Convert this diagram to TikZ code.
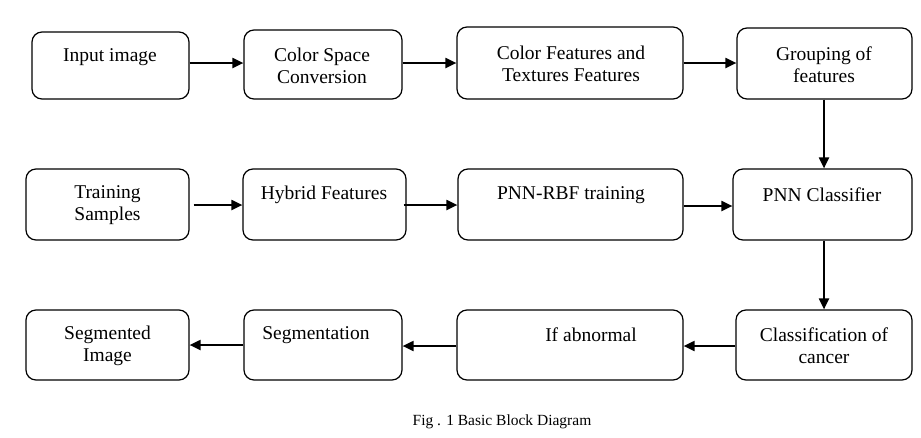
\documentclass[tikz,border=0pt]{standalone}
\usepackage{fontspec}
\setmainfont{Liberation Serif}
\usetikzlibrary{arrows.meta}
\begin{document}
\begin{tikzpicture}[x=1pt,y=-1pt,
  box/.style={draw, line width=1.2pt, rounded corners=10pt, inner sep=0pt},
  lbl/.style={font=\fontsize{19.5}{22}\selectfont, align=center, inner sep=0pt},
  captext/.style={font=\fontsize{15.5}{18}\selectfont, inner sep=0pt},
  arr/.style={line width=2pt, -{Triangle[length=11pt,width=10pt]}}]
\useasboundingbox (0,0) rectangle (921,437);
% boxes
\node[box, minimum width=157pt, minimum height=67pt] (a1) at (110.5,65.5) {};
\node[box, minimum width=158pt, minimum height=69pt] (a2) at (323,64.5) {};
\node[box, minimum width=226pt, minimum height=72pt] (a3) at (570,63) {};
\node[box, minimum width=175pt, minimum height=71pt] (a4) at (824.5,63.5) {};
\node[box, minimum width=163pt, minimum height=71pt] (b1) at (107.5,204.5) {};
\node[box, minimum width=163pt, minimum height=71pt] (b2) at (324.5,204.5) {};
\node[box, minimum width=225pt, minimum height=71pt] (b3) at (570.5,204.5) {};
\node[box, minimum width=179pt, minimum height=71pt] (b4) at (822.5,204.5) {};
\node[box, minimum width=163pt, minimum height=70pt] (c1) at (107.5,345) {};
\node[box, minimum width=158pt, minimum height=70pt] (c2) at (323,345) {};
\node[box, minimum width=226pt, minimum height=70pt] (c3) at (570,345) {};
\node[box, minimum width=176pt, minimum height=70pt] (c4) at (824,345) {};
% texts
\node[lbl] (ta1) at (110,57) {Input image};
\node[lbl] (ta2) at (322,66) {Color Space\\Conversion};
\node[lbl] (ta3) at (571,63.5) {Color Features and\\Textures Features};
\node[lbl] (ta4) at (824,64.5) {Grouping of\\features};
\node[lbl] (tb1) at (107.5,205.5) {Training\\Samples};
\node[lbl] (tb2) at (324,195) {Hybrid Features};
\node[lbl] (tb3) at (571,195) {PNN-RBF training};
\node[lbl] (tb4) at (822,195) {PNN Classifier};
\node[lbl] (tc1) at (107.5,346) {Segmented\\Image};
\node[lbl] (tc2) at (316,335) {Segmentation};
\node[lbl] (tc3) at (591,335) {If abnormal};
\node[lbl] (tc4) at (824,346) {Classification of\\cancer};
\node[captext] (capt) at (502,422) {Fig . 1 Basic Block Diagram};
% connectors
\draw[arr] ([yshift=2.5pt]a1.east) -- ([yshift=2.5pt]a1.east -| a2.west);
\draw[arr] ([yshift=1.5pt]a2.east) -- ([yshift=1.5pt]a2.east -| a3.west);
\draw[arr] (a3.east) -- (a3.east -| a4.west);
\draw[arr] ([xshift=-0.5pt]a4.south) -- ([xshift=-0.5pt]a4.south |- b4.north);
\draw[arr] ([xshift=4pt,yshift=-0.5pt]b1.east) -- ([yshift=-0.5pt]b1.east -| b2.west);
\draw[arr] ([xshift=-3pt,yshift=-0.5pt]b2.east) -- ([yshift=-0.5pt]b2.east -| b3.west);
\draw[arr] ([yshift=-1.5pt]b3.east) -- ([yshift=-1.5pt]b3.east -| b4.west);
\draw[arr] (c4.north |- b4.south) -- (c4.north);
\draw[arr] ([yshift=-1pt]c4.west) -- ([yshift=-1pt]c4.west -| c3.east);
\draw[arr] ([yshift=-1pt]c3.west) -- ([yshift=-1pt]c3.west -| c2.east);
\draw[arr] (c2.west) -- (c2.west -| c1.east);
\end{tikzpicture}
\end{document}
